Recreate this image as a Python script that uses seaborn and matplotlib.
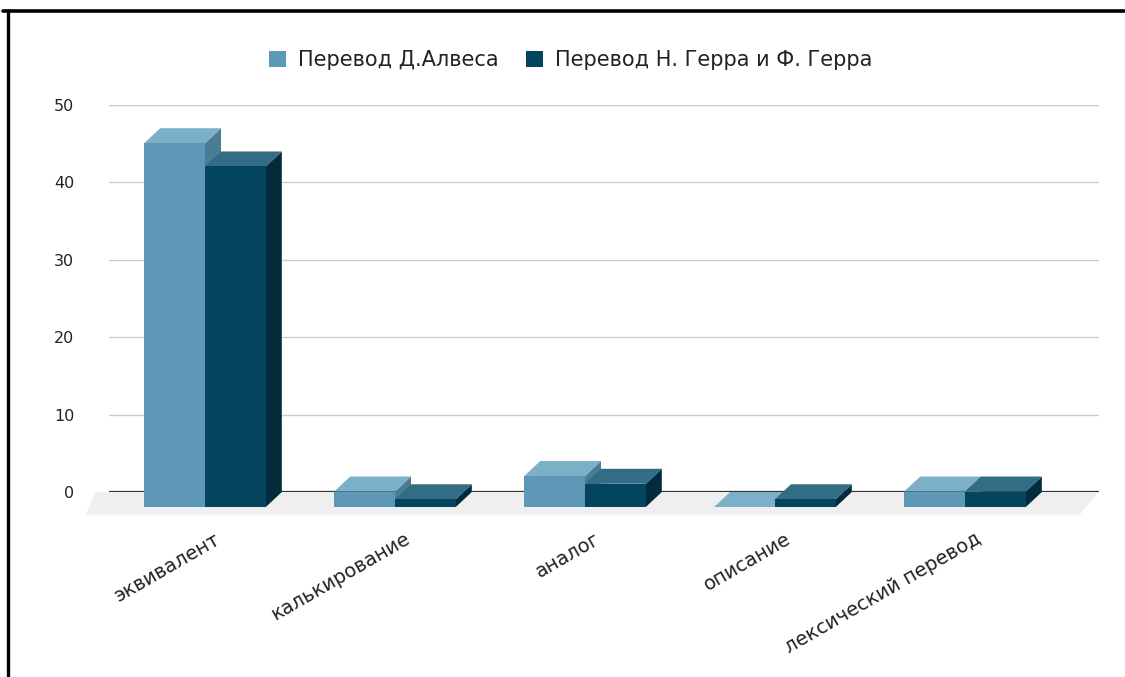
import matplotlib
matplotlib.use("Agg")
import pandas as pd
import matplotlib.pyplot as plt
import seaborn as sns
from matplotlib.patches import Polygon, Patch
from matplotlib.lines import Line2D
from matplotlib.transforms import ScaledTranslation

# данные
categories = ["эквивалент", "калькирование", "аналог", "описание", "лексический перевод"]
series_names = ["Перевод Д.Алвеса", "Перевод Н. Герра и Ф. Герра"]
alves = [47, 2, 4, 0, 2]
gerra = [44, 1, 3, 1, 2]
y_ticks = [0, 10, 20, 30, 40, 50]

df = pd.DataFrame({
    "Метод": categories * 2,
    "Перевод": [series_names[0]] * len(categories) + [series_names[1]] * len(categories),
    "Количество": alves + gerra,
})

# цвета: передняя грань, верх, бок
front_cols = ["#5e98b8", "#03445f"]
top_cols = ["#7cafc8", "#336d85"]
side_cols = ["#4a7c95", "#022b3c"]

sns.set_theme(style="white")
plt.rcParams['font.family'] = ['DejaVu Sans']

W, H = 1125, 677
fig = plt.figure(figsize=(W / 100, H / 100), dpi=100)
depth_x, depth_y = 16, 15  # смещение "глубины" в пикселях

# задняя стенка: сетка и подписи оси Y
bx = fig.add_axes([109 / W, (H - 492) / H, 990 / W, 387 / H])
bx.set_ylim(0, 50)
bx.set_xlim(0, 1)
bx.set_yticks(y_ticks)
bx.set_xticks([])
for s in bx.spines.values():
    s.set_visible(False)
bx.grid(axis='y', color='#cccccc', lw=1)
bx.axhline(0, color='#333333', lw=1.6, zorder=3)
bx.tick_params(axis='y', length=0, pad=25, labelsize=11.5, labelcolor='#222222')
bx.patch.set_alpha(0)

# передняя плоскость: столбцы
ax = fig.add_axes([110 / W, (H - 507) / H, 950 / W, 387 / H])
sns.barplot(data=df, x="Метод", y="Количество", hue="Перевод",
            palette=front_cols, width=0.64, gap=0, saturation=1,
            errorbar=None, legend=False, ax=ax, linewidth=0)
ax.set_xlim(-0.5, 4.5)
ax.set_ylim(0, 50)
ax.patch.set_alpha(0)
for s in ax.spines.values():
    s.set_visible(False)
ax.set_yticks([])
ax.set_xlabel("")
ax.set_ylabel("")

bars = list(ax.patches)
n = len(categories)

bbox = ax.get_window_extent()
ddx = depth_x * 5.0 / bbox.width
ddy = depth_y * 50.0 / bbox.height

# пол
x0, x1 = ax.get_xlim()
floor = Polygon([(x0 - 1.5 * ddx, -0.5 * ddy), (x1 + 1.25 * ddx, -0.5 * ddy),
                 (x1 + 2.4 * ddx, ddy), (x0 - 0.9 * ddx, ddy)],
                closed=True, facecolor='#efefef', edgecolor='none',
                zorder=0.5, clip_on=False)
ax.add_patch(floor)

# объемные грани
order = sorted(range(len(bars)), key=lambda j: bars[j].get_x())
for i, j in enumerate(order):
    b = bars[j]
    k = j // n
    x, w, h = b.get_x(), b.get_width(), b.get_height()
    base = 2 + i
    side = Polygon([(x + w, 0), (x + w + ddx, ddy), (x + w + ddx, h + ddy), (x + w, h)],
                   facecolor=side_cols[k], edgecolor='none', zorder=base + 0.1, clip_on=False)
    top = Polygon([(x, h), (x + ddx, h + ddy), (x + w + ddx, h + ddy), (x + w, h)],
                  facecolor=top_cols[k], edgecolor='none', zorder=base + 0.2, clip_on=False)
    ax.add_patch(side)
    ax.add_patch(top)
    b.set_zorder(base + 0.3)
    b.set_clip_on(False)

# подписи категорий
ax.set_xticks(range(n))
ax.set_xticklabels(categories, rotation=30, ha='right', va='center',
                   rotation_mode='anchor', fontsize=14, color='#222222')
ax.tick_params(axis='x', length=0, pad=22)
for lbl in ax.get_xticklabels():
    lbl.set_transform(lbl.get_transform() + ScaledTranslation(0.14, 0, fig.dpi_scale_trans))

# легенда
handles = [Patch(facecolor=c, edgecolor='none') for c in front_cols]
fig.legend(handles, series_names, loc='center', bbox_to_anchor=(571 / W, 1 - 60 / H),
           ncol=2, frameon=False, fontsize=15, handlelength=0.8, handleheight=0.8,
           handletextpad=0.6, columnspacing=1.3, labelcolor='#222222')

# рамка
fig.add_artist(Line2D([3 / W, 1], [1 - 11 / H, 1 - 11 / H], color='black', lw=2.6))
fig.add_artist(Line2D([7.5 / W, 7.5 / W], [0, 1 - 11 / H], color='black', lw=2.4))

fig.savefig("out.png", dpi=100)
